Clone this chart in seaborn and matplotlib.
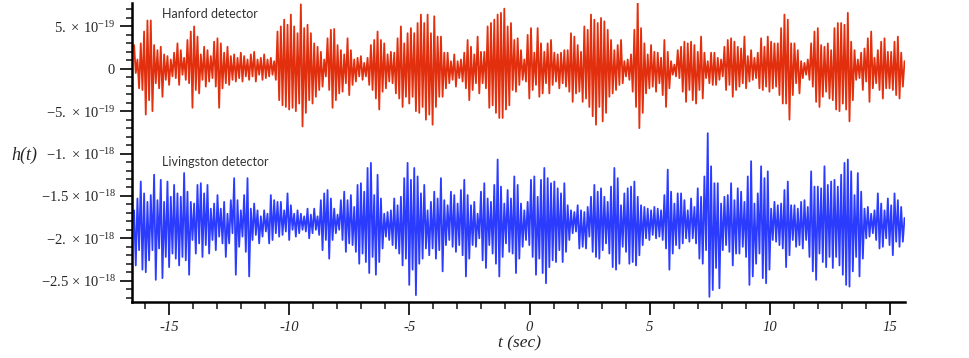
import numpy as np
import pandas as pd
import matplotlib
matplotlib.use("Agg")
import matplotlib.pyplot as plt
import seaborn as sns
from matplotlib.ticker import FixedLocator, FixedFormatter, MultipleLocator

# ---------------- data (units of 1e-19 strain) ----------------
T_START, T_END = -16.45, 15.6

hanford_start = [2.8, -0.5]
hanford_peaks = [
    1.1, 3.0, 4.4, 5.7, 5.7, 2.8, 2.2, 2.6, 1.7, 1.5, 1.1, 1.9, 3.0, 2.2, 1.3, 3.4, 4.4, 5.0, 3.8, 1.7,
    2.6, 2.2, 1.5, 3.2, 3.6, 3.0, 1.9, 2.6, 1.5, 1.7, 1.3, 1.9, 1.5, 1.1, 1.7, 2.0, 1.1, 1.3, 1.7, 1.1,
    1.3, 0.9, 4.4, 5.0, 5.8, 5.2, 6.4, 5.0, 4.2, 7.6, 4.8, 5.2, 4.2, 3.0, 2.6,
    2.0, 1.1, 3.6, 4.6, 4.7, 2.8, 2.2, 1.7, 3.6, 2.2, 1.1, 1.3, 1.5, 0.7, 1.3, 2.8, 3.4, 4.4, 3.4, 3.0,
    1.7, 2.0, 1.9, 3.6, 5.0, 3.0, 4.2, 4.8, 4.2, 5.4, 6.4, 5.4, 6.4, 4.2, 6.2, 3.8, 3.8, 1.9, 1.9, 0.9,
    1.7, 0.9, 1.1, 1.9, 3.4, 2.6, 1.7, 3.8, 2.0, 2.0, 5.0, 5.4, 5.8, 6.4, 6.6, 7.1, 5.0,
    5.4, 3.4, 3.6, 2.2, 1.1, 4.0, 4.8, 1.9, 4.8, 3.0, 2.0, 3.0, 3.4, 1.9, 1.7, 1.9, 2.2, 2.2, 4.2, 3.8,
    2.8, 2.0, 5.0, 4.6, 6.4, 5.8, 5.4, 6.0, 5.6, 4.6, 3.4, 2.2, 2.8, 3.4, 0.9, 1.1, 1.7, 4.6, 8.0, 4.8,
    3.0, 1.7, 2.8, 2.0, 1.9, 1.3, 3.4, 2.0, 0.9, 0.5, 2.2, 2.6, 3.2, 3.0, 3.2, 2.8, 2.0,
    3.8, 1.9, 0.9, 1.9, 1.9, 1.3, 1.1, 2.6, 3.4, 3.6, 3.2, 2.6, 2.4, 3.8, 1.5, 2.2, 1.3, 1.9, 3.6, 2.6,
    3.8, 3.2, 3.0, 3.0, 4.8, 6.4, 5.8, 3.0, 3.0, 2.2, 0.9, 0.7, 1.1, 3.0, 4.4, 4.8, 2.8, 2.6, 3.0, 2.2,
    4.8, 5.4, 5.4, 5.2, 6.6, 3.2, 2.2, 1.1, 1.9, 2.4, 3.6, 4.4, 1.3, 2.2, 3.2, 3.6, 2.0, 2.0, 3.2, 3.8, 1.9,
]
hanford_troughs = [
    -2.3, -2.5, -5.4, -3.7, -5.0, -1.7, -2.3, -3.3, -1.3, -1.9, -0.9, -1.1, -1.9, -0.7, -1.3, -1.7, -4.6, -2.5, -2.9, -1.3,
    -2.1, -1.5, -1.1, -2.1, -4.6, -2.3, -1.7, -1.9, -1.3, -1.5, -1.1, -1.5, -0.9, -1.3, -0.9, -1.5, -0.7, -1.3, -1.1, -0.9,
    -0.7, -1.3, -3.7, -4.3, -4.5, -4.8, -4.6, -5.0, -4.1, -6.8, -5.2, -3.7, -4.1, -3.3, -2.5,
    -2.1, -0.9, -2.5, -4.6, -3.7, -2.9, -2.7, -1.7, -3.1, -1.9, -1.5, -0.9, -1.3, -0.9, -1.9, -2.5, -3.5, -4.8, -2.7, -2.3,
    -1.5, -1.7, -2.9, -3.5, -4.5, -3.3, -4.1, -3.3, -5.0, -5.2, -4.5, -6.0, -5.4, -6.6, -4.5, -3.3, -3.3, -2.3, -1.7, -1.3,
    -2.1, -1.1, -1.5, -2.3, -3.7, -2.5, -1.7, -2.9, -1.7, -2.3, -4.6, -4.3, -5.2, -5.8, -5.8, -4.8, -4.3,
    -2.5, -2.7, -1.9, -1.3, -1.5, -3.5, -2.5, -1.9, -3.3, -2.9, -1.7, -2.9, -1.9, -1.5, -2.3, -1.7, -2.1, -2.7, -3.9, -2.9,
    -2.7, -3.9, -3.5, -4.5, -5.6, -6.6, -4.5, -6.2, -5.2, -3.3, -2.9, -2.5, -1.9, -1.7, -0.9, -1.3, -2.7, -4.5, -7.0, -5.2,
    -2.9, -2.3, -2.1, -2.7, -1.7, -3.1, -4.5, -2.3, -0.7, -0.9, -1.1, -2.7, -3.9, -2.5, -3.7, -4.1, -2.5,
    -3.5, -1.1, -1.7, -1.9, -1.9, -1.3, -0.9, -2.5, -1.9, -3.3, -2.5, -2.1, -1.7, -2.3, -1.5, -1.3, -1.1, -2.3, -2.5, -2.1,
    -2.7, -2.3, -2.1, -3.1, -4.1, -4.1, -6.0, -3.1, -1.7, -2.9, -1.1, -0.7, -1.3, -2.1, -3.9, -4.5, -3.3, -2.7, -3.5, -3.7,
    -4.8, -5.0, -4.1, -4.8, -6.2, -3.7, -1.3, -1.1, -2.5, -1.5, -3.9, -2.3, -1.7, -2.5, -3.5, -2.3, -2.3, -2.5, -3.1, -3.5, -2.1,
]
hanford_end = [0.9]

livingston_start = [-16.7, -23.2]
livingston_peaks = [
    -15.3, -13.3, -14.7, -15.7, -14.9, -12.5, -15.5, -13.1, -15.7, -13.3, -15.1, -13.7, -14.7, -15.1, -12.3,
    -14.5, -15.7, -15.9, -13.7, -13.5, -14.7, -13.7, -16.5, -15.9, -14.9, -16.5, -15.7, -17.1, -15.5, -12.9,
    -15.5, -16.7, -14.9, -12.9, -16.5, -15.9, -16.7, -17.4, -16.7, -17.1, -14.9, -15.5, -15.7, -15.7, -16.7,
    -14.7, -16.1, -17.1, -16.7, -17.1, -17.4, -16.5, -17.2, -16.5, -17.4,
    -15.5, -14.7, -14.3, -15.3, -16.5, -17.2, -15.5, -14.5, -15.5, -14.9, -16.3, -13.7, -13.5, -14.5, -11.7,
    -11.1, -14.9, -12.5, -15.3, -17.1, -16.9, -16.7, -15.3, -16.1, -15.1, -12.9, -11.1, -13.1, -11.7, -12.7,
    -14.7, -13.7, -16.7, -15.7, -14.5, -15.3, -12.9, -15.5, -16.1, -14.5, -14.9, -15.9, -14.3, -13.1, -14.9,
    -16.1, -15.7, -17.1, -14.5, -13.5, -15.3, -15.7, -13.7, -10.7, -13.9, -15.9, -14.3,
    -15.3, -12.7, -13.7, -15.9, -16.7, -15.7, -13.1, -12.7, -15.1, -13.1, -11.7, -12.9, -13.5, -13.3, -14.1,
    -14.7, -13.5, -16.1, -16.7, -16.9, -16.1, -16.7, -16.9, -16.3, -15.1, -13.7, -14.5, -14.1, -15.1, -15.7,
    -13.9, -11.7, -12.9, -16.1, -14.7, -14.1, -13.9, -13.3, -15.1, -16.1, -16.3, -16.5, -16.7, -16.3, -16.5,
    -16.7, -14.9, -11.9, -14.5, -15.9, -14.7, -14.7, -15.5, -16.7, -15.3, -16.3, -14.1,
    -15.1, -12.7, -7.6, -11.5, -13.5, -13.5, -15.9, -15.1, -14.9, -13.5, -15.5, -14.1, -14.5, -15.7, -12.7,
    -10.9, -15.9, -14.7, -11.5, -12.9, -12.1, -16.5, -15.7, -16.1, -15.9, -14.3, -13.3, -16.1, -16.1, -16.5,
    -15.7, -15.5, -16.3, -12.1, -13.9, -13.9, -14.1, -11.5, -13.7, -13.3, -13.1, -13.9, -12.5, -11.1, -10.7,
    -12.1, -14.9, -12.3, -14.5, -16.5, -16.3, -17.1, -16.7, -14.7, -15.9, -16.7, -15.3, -16.1, -14.7, -15.5, -16.3,
]
livingston_troughs = [
    -21.4, -23.7, -24.0, -22.6, -21.4, -24.9, -21.2, -24.7, -22.2, -23.4, -21.8, -22.4, -23.2, -22.2, -22.6,
    -24.3, -20.2, -21.8, -20.6, -22.2, -20.8, -21.8, -20.2, -21.4, -19.8, -20.6, -22.2, -20.6, -19.4, -24.3,
    -21.0, -19.8, -21.6, -24.5, -20.2, -19.6, -20.6, -19.8, -19.2, -20.6, -20.2, -19.4, -19.8, -19.6, -19.2,
    -20.2, -19.0, -19.8, -19.4, -19.0, -19.2, -20.0, -19.4, -19.0, -19.6,
    -21.4, -20.2, -22.4, -20.2, -19.4, -19.0, -20.2, -21.6, -20.6, -20.8, -21.6, -23.0, -21.8, -22.8, -24.1,
    -22.2, -24.3, -22.8, -21.2, -19.8, -20.2, -20.8, -21.2, -21.8, -23.2, -22.4, -25.5, -23.7, -26.7, -23.0,
    -22.4, -21.2, -22.0, -21.2, -22.4, -21.4, -23.9, -20.8, -20.2, -21.0, -21.6, -20.8, -22.0, -24.5, -22.4,
    -20.8, -21.0, -20.0, -22.6, -23.5, -20.8, -21.8, -23.0, -24.5, -22.2, -20.6, -21.6,
    -21.8, -24.1, -22.4, -21.0, -20.2, -20.8, -22.2, -24.3, -22.4, -24.1, -25.3, -23.4, -22.6, -22.8, -21.4,
    -22.8, -21.6, -20.2, -19.4, -19.2, -21.2, -21.0, -21.2, -19.8, -21.6, -22.2, -22.4, -21.4, -20.6, -21.8,
    -23.4, -23.7, -23.0, -21.0, -21.6, -23.0, -22.8, -23.2, -22.0, -20.8, -20.0, -20.2, -19.6, -20.0, -19.8,
    -20.2, -21.2, -23.7, -21.8, -20.8, -21.2, -20.6, -20.0, -20.4, -20.0, -20.6, -22.4,
    -23.0, -21.4, -26.9, -26.1, -23.5, -25.9, -21.4, -20.8, -21.6, -23.2, -21.8, -21.8, -21.0, -22.2, -25.5,
    -24.5, -23.0, -21.8, -24.7, -25.3, -23.7, -20.2, -20.4, -20.8, -21.2, -23.4, -22.0, -20.2, -21.0, -20.8,
    -21.2, -20.2, -22.2, -23.9, -24.9, -21.8, -22.8, -23.4, -22.2, -23.5, -22.2, -23.2, -24.3, -25.5, -25.7,
    -23.9, -22.2, -24.5, -22.4, -20.0, -19.8, -19.4, -20.2, -21.2, -21.0, -20.0, -20.8, -22.0, -20.4, -21.0, -20.4,
]
livingston_end = [-17.6]

y_major = [5e-19, 0.0, -5e-19, -1e-18, -1.5e-18, -2e-18, -2.5e-18]
y_labels = [
    r"$\mathit{5.}\,\times\,\mathit{10}^{\mathit{-19}}$",
    r"$\mathit{0}$",
    r"$\mathit{-5.}\,\times\,\mathit{10}^{\mathit{-19}}$",
    r"$\mathit{-1.}\,\times\,\mathit{10}^{\mathit{-18}}$",
    r"$\mathit{-1.5}\,\times\,\mathit{10}^{\mathit{-18}}$",
    r"$\mathit{-2.}\,\times\,\mathit{10}^{\mathit{-18}}$",
    r"$\mathit{-2.5}\,\times\,\mathit{10}^{\mathit{-18}}$",
]
x_major = [-15, -10, -5, 0, 5, 10, 15]
x_labels = ["-15", "-10", "-5", "0", "5", "10", "15"]


def build(start, peaks, troughs, end):
    seq = list(start)
    for p, q in zip(peaks, troughs):
        seq += [p, q]
    seq += list(end)
    vals = np.array(seq) * 1e-19
    t = np.linspace(T_START, T_END, len(vals))
    return pd.DataFrame({"t": t, "h": vals})


df_h = build(hanford_start, hanford_peaks, hanford_troughs, hanford_end)
df_l = build(livingston_start, livingston_peaks, livingston_troughs, livingston_end)

# ---------------- style ----------------
sns.set_style("ticks")
plt.rcParams["font.family"] = ["Liberation Serif", "DejaVu Sans"]
plt.rcParams["mathtext.fontset"] = "custom"
plt.rcParams["mathtext.rm"] = "Liberation Serif"
plt.rcParams["mathtext.it"] = "Liberation Serif:italic"
plt.rcParams["mathtext.bf"] = "Liberation Serif:bold"

fig = plt.figure(figsize=(9.70, 3.58), dpi=100)
W, H = 970.0, 358.0
left, right, top, bottom = 131.7, 905.0, 2.7, 301.7
ax = fig.add_axes([left / W, 1 - bottom / H, (right - left) / W, (bottom - top) / H])

sns.lineplot(data=df_h, x="t", y="h", ax=ax, color="#e2300e", linewidth=1.3,
             estimator=None, sort=False)
sns.lineplot(data=df_l, x="t", y="h", ax=ax, color="#2c3cff", linewidth=1.3,
             estimator=None, sort=False)

ax.set_xlim(-16.55, 15.62)
ax.set_ylim(-2.748e-18, 7.8e-19)

ax.xaxis.set_major_locator(FixedLocator(x_major))
ax.xaxis.set_major_formatter(FixedFormatter(x_labels))
ax.xaxis.set_minor_locator(MultipleLocator(1))
ax.yaxis.set_major_locator(FixedLocator(y_major))
ax.yaxis.set_major_formatter(FixedFormatter(y_labels))
ax.yaxis.set_minor_locator(MultipleLocator(1e-19))

for s in ["top", "right"]:
    ax.spines[s].set_visible(False)
for s in ["left", "bottom"]:
    ax.spines[s].set_linewidth(1.8)
    ax.spines[s].set_color("black")

ax.tick_params(axis="y", which="major", length=8.5, width=1.4, direction="out",
               pad=3, labelsize=10.5)
ax.tick_params(axis="y", which="minor", length=4.3, width=1.2, direction="out")
ax.tick_params(axis="x", which="major", length=9, width=1.4, direction="out",
               pad=5, labelsize=10.5)
ax.tick_params(axis="x", which="minor", length=5, width=1.2, direction="out")
for lab in ax.get_xticklabels():
    lab.set_fontstyle("italic")

ax.set_xlabel("")
ax.set_ylabel("")

fig.text(520 / W, 1 - 343 / H, "t (sec)", ha="center", va="center",
         fontsize=12.5, fontstyle="italic", family="Liberation Serif")
fig.text(24 / W, 1 - 155 / H, "h(t)", ha="center", va="center",
         fontsize=13, fontstyle="italic", family="Liberation Serif")

fig.text(162 / W, 1 - 14 / H, "Hanford detector", ha="left", va="center",
         fontsize=9, family="Lato", color="#333333")
fig.text(162 / W, 1 - 162 / H, "Livingston detector", ha="left", va="center",
         fontsize=9, family="Lato", color="#333333")

fig.savefig("out.png", dpi=100)
